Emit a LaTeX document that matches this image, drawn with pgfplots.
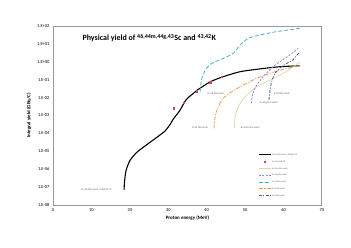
\documentclass[border=0pt]{standalone}
\usepackage{pgfplots}
\pgfplotsset{compat=1.18}
\usepackage{fontspec}
\setmainfont{Carlito}
\definecolor{cRed}{HTML}{C0504D}
\definecolor{cKhaki}{HTML}{D7DBB0}
\definecolor{cPurple}{HTML}{9B85C9}
\definecolor{cCyan}{HTML}{4BACC6}
\definecolor{cOrange}{HTML}{F79646}
\definecolor{cBlue}{HTML}{3E5F8A}
\definecolor{cText}{HTML}{595959}
\begin{document}
\begin{tikzpicture}
\useasboundingbox (0,0) rectangle (351bp,248bp);
\begin{axis}[
  at={(53bp,43bp)}, anchor=south west,
  width=269bp, height=179bp, scale only axis,
  xmin=0, xmax=70, ymode=log, ymin=1e-8, ymax=1e2,
  xtick={0,10,20,30,40,50,60,70},
  xticklabels={0,10,20,30,40,50,60,70},
  ytick={1e-8,1e-7,1e-6,1e-5,1e-4,1e-3,1e-2,1e-1,1,1e1,1e2},
  yticklabels={1.E-08,1.E-07,1.E-06,1.E-05,1.E-04,1.E-03,1.E-02,1.E-01,1.E+00,1.E+01,1.E+02},
  major tick length=0pt, minor tick num=0,
  yminorticks=false,
  tick label style={font=\fontsize{4.5}{5}\selectfont, text=black},
  axis line style={draw=gray!80, line width=1pt},
  xlabel={Proton energy (MeV)},
  ylabel={Integral yield (GBq/C)},
  every axis x label/.style={at={([yshift=-13bp]axis description cs:0.5,0)}, anchor=center, font=\fontsize{5}{6}\selectfont\bfseries},
  every axis y label/.style={at={([xshift=-24bp]axis description cs:0,0.5)}, rotate=90, anchor=center, font=\fontsize{5}{6}\selectfont\bfseries},
  legend style={at={(0.762,0.29)}, anchor=north west, draw=none, fill=none,
    font=\fontsize{2.3}{2.8}\selectfont, text=cText, row sep=3.6bp, inner sep=0pt,
    nodes={inner sep=0.5bp, text height=1.7bp, text depth=0.5bp}},
  legend cell align=left,
  legend image code/.code={\draw[mark repeat=2, mark phase=2, #1] plot coordinates {(0bp,0bp) (6bp,0bp) (12bp,0bp)};},
  clip=false,
]
\addplot[black, line width=1.1pt, smooth, tension=0.4] coordinates {
 (18.5,7.1e-8) (18.6,1.86e-7) (19.0,8.3e-7) (20.0,3.0e-6) (21.8,8.7e-6)
 (24.4,2.34e-5) (27.0,6.0e-5) (29.1,1.32e-4) (29.8,2.0e-4) (30.5,3.2e-4)
 (31.3,6.3e-4) (33.0,1.9e-3) (34.7,7.9e-3) (36.9,0.020) (37.4,0.025)
 (40.9,0.076) (44.3,0.148) (48.7,0.28) (53,0.38) (58.1,0.51) (62,0.575) (64.2,0.60)};
\addlegendentry{Sc-46 this work + Michel 79}
\addplot[only marks, mark=square*, mark size=0.9pt, color=cRed] coordinates {
 (31.4,2.5e-3) (34,5.2e-3) (37.4,0.0234) (40.9,0.0708) (43.9,0.148)};
\addlegendentry{Sc-46 Lamb 78}
\addplot[cKhaki, line width=0.8pt, smooth, tension=0.4] coordinates {
 (47.2,1.9e-4) (47.4,8.5e-4) (48.2,3.1e-3) (50,0.0112) (53,0.041) (56.5,0.0955)
 (59.9,0.229) (63,0.63) (64.2,1.0)};
\addlegendentry{Sc-44m this work}
\addplot[cPurple, line width=0.8pt, dash pattern=on 2bp off 1.5bp, smooth, tension=0.4] coordinates {
 (51.6,4.8e-3) (52,0.0174) (53,0.050) (54.7,0.148) (57.3,0.537) (59,1.0) (61.6,2.4) (63.8,5.6)};
\addlegendentry{Sc-44g this work}
\addplot[cCyan, line width=0.8pt, dash pattern=on 4bp off 2bp, smooth, tension=0.4] coordinates {
 (38.3,0.0214) (38.6,0.0955) (39.1,0.182) (39.6,0.347) (40.9,0.72) (43,1.2) (44.3,1.55)
 (46.9,2.95) (48.7,8.7) (50.8,20.4) (53.8,31.6) (58.1,47.9) (64.2,74)};
\addlegendentry{Sc-43 this work}
\addplot[cOrange, line width=0.8pt, dash pattern=on 4bp off 1.5bp on 1bp off 1.5bp, smooth, tension=0.4] coordinates {
 (41.9,1.9e-4) (42.2,8.5e-4) (43,3.1e-3) (44.3,9.1e-3) (46.5,0.0214) (49.5,0.050)
 (53,0.12) (56.5,0.229) (59.9,0.38) (64.2,0.60)};
\addlegendentry{K-43 this work}
\addplot[cBlue, line width=0.8pt, dash pattern=on 3bp off 1.5bp on 1bp off 1.5bp, smooth, tension=0.4] coordinates {
 (56.2,7.4e-3) (56.5,0.0263) (56.9,0.0776) (57.8,0.229) (59.5,0.537) (61.6,1.0) (62.4,1.26) (64.2,3.6)};
\addlegendentry{K-42 this work}
\begin{scope}[every node/.style={font=\fontsize{2.7}{3}\selectfont, text=cText, inner sep=0pt}]
\node[anchor=west] at (axis cs:40.1,0.0174) {Sc-43 this work};
\node at (axis cs:38.3,2.0e-4) {K-43 this work};
\node at (axis cs:51.3,2.0e-4) {Sc-44m this work};
\node at (axis cs:56.1,5.0e-3) {Sc-44g this work};
\node at (axis cs:59.5,0.0158) {K-42 this work};
\node at (axis cs:11.3,6.9e-8) {Sc-46 this work + Michel 79};
\end{scope}
\node[anchor=west, font=\fontsize{8}{9}\selectfont\bfseries] at (rel axis cs:0.097,0.933)
 {Physical yield of \textsuperscript{46,44m,44g,43}Sc and \textsuperscript{43,42}K};
\end{axis}
\end{tikzpicture}
\end{document}
